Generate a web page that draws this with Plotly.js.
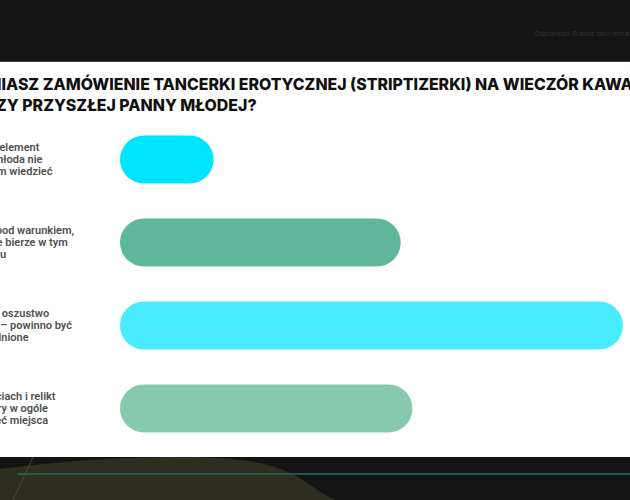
<!DOCTYPE html>
<html>
<head>
<meta charset="utf-8">
<script src="https://cdn.plot.ly/plotly-3.0.1.min.js"></script>
<style>
  html, body { margin: 0; padding: 0; background: #141414; }
  #chart { width: 630px; height: 500px; }
</style>
</head>
<body>
<div id="chart"></div>
<script>
// answers (top to bottom) and their share of responses, %
const categories = [
  "Zwykły element<br>zabawy – panna młoda nie<br>musi o tym wiedzieć",
  "Dopuszczalne pod warunkiem,<br>że pan młody nie bierze w tym<br>udziału",
  "Bez jej wiedzy to oszustwo<br>wobec partnerki – powinno być<br>uzgodnione",
  "Oszustwo w uczuciach i relikt<br>przeszłości, który w ogóle<br>nie powinien mieć miejsca"
];
const shares = [8, 24, 43, 25];
const barColors = ["#00e5ff", "#5eb69b", "#48ebff", "#87c9af"];

const title = "JAK OCENIASZ ZAMÓWIENIE TANCERKI EROTYCZNEJ (STRIPTIZERKI) NA WIECZÓR KAWALERSKI<br>BEZ WIEDZY PRZYSZŁEJ PANNY MŁODEJ?";
const header = "Odpowiedzi: Granice tabu i moralności";

// visible right end of every label line (the slide is cropped on the left)
const labelLineEnds = [[42, 45, 55], [76, 70, 8], [51, 74, 31], [58, 50, 50]];

// plot area: x 120..630 px, y 118..450 px
const L = 120, W = 510, T = 118, H = 332;
const px = (x, y) => [(x - L) / W, (T + H - y) / H];
const pt = (x, y) => px(x, y).join(",");

const traces = [{
  type: "bar", orientation: "h", y: categories, x: shares, base: shares.map(() => 0),
  marker: { color: barColors, cornerradius: "50%" }, hoverinfo: "skip"
}];

const annotations = [
  { text: title, xref: "paper", yref: "paper", x: px(-83, 0)[0], y: px(0, 94.5)[1],
    xanchor: "left", yanchor: "middle", align: "left", showarrow: false,
    font: { family: "Inter", size: 15.9, color: "#111111", weight: 800 } },
  { text: header, xref: "paper", yref: "paper", x: px(533, 0)[0], y: px(0, 34)[1],
    xanchor: "left", yanchor: "middle", showarrow: false,
    font: { family: "Inter", size: 6, color: "#3a3a3a" } }
];
categories.forEach((c, i) => {
  c.split("<br>").forEach((line, j) => {
    annotations.push({
      text: line, xref: "paper", yref: "y", x: px(labelLineEnds[i][j], 0)[0],
      y: c, yshift: (1 - j) * 12.3, xanchor: "right", yanchor: "middle",
      showarrow: false, font: { family: "Roboto", size: 11, color: "#505050", weight: 600 }
    });
  });
});

const shapes = [
  // white slide
  { type: "rect", xref: "paper", yref: "paper", layer: "below",
    x0: px(0, 0)[0], x1: px(630, 0)[0], y0: px(0, 457)[1], y1: px(0, 62)[1],
    fillcolor: "#ffffff", line: { width: 0 } },
  { type: "line", xref: "paper", yref: "paper", layer: "below",
    x0: px(0, 0)[0], x1: px(630, 0)[0], y0: px(0, 61.5)[1], y1: px(0, 61.5)[1],
    line: { color: "#444444", width: 1 } },
  // olive hill at the bottom
  { type: "path", xref: "paper", yref: "paper", layer: "below",
    path: "M " + pt(0, 469) + " C " + pt(60, 461) + " " + pt(120, 457) + " " + pt(180, 457) +
          " C " + pt(240, 457) + " " + pt(275, 463) + " " + pt(298, 477) +
          " C " + pt(315, 488) + " " + pt(325, 495) + " " + pt(335, 500) +
          " L " + pt(0, 500) + " Z",
    fillcolor: "#2d2d20", line: { width: 0 } },
  { type: "line", xref: "paper", yref: "paper", layer: "below",
    x0: px(33, 0)[0], x1: px(13, 0)[0], y0: px(0, 457)[1], y1: px(0, 500)[1],
    line: { color: "#4a4a2e", width: 1 } },
  { type: "line", xref: "paper", yref: "paper", layer: "below",
    x0: px(18, 0)[0], x1: px(630, 0)[0], y0: px(0, 474)[1], y1: px(0, 474)[1],
    line: { color: "#2b6767", width: 1.5 } }
];

const layout = {
  width: 630, height: 500,
  margin: { l: L, r: 630 - L - W, t: T, b: 500 - T - H, pad: 0 },
  paper_bgcolor: "#141414", plot_bgcolor: "rgba(0,0,0,0)",
  bargap: 0.42, showlegend: false,
  xaxis: { range: [0, 43.6], visible: false, fixedrange: true },
  yaxis: { autorange: "reversed", visible: false, fixedrange: true },
  annotations, shapes
};

Plotly.newPlot("chart", traces, layout, { staticPlot: true });
</script>
</body>
</html>
